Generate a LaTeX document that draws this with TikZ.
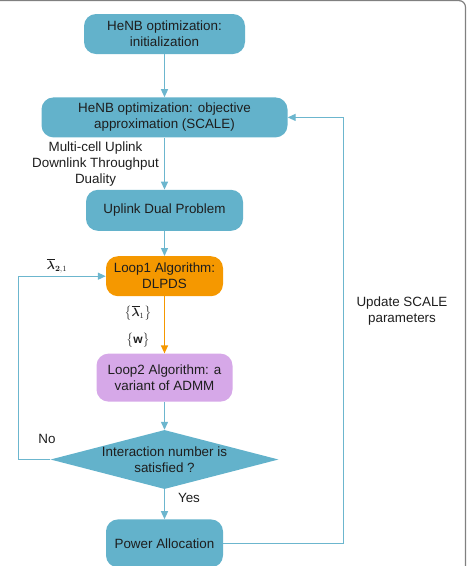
\documentclass[tikz,border=0pt]{standalone}
\usepackage{amsmath}
\usepackage{bm}
\usepackage{fontspec}
\setmainfont{Liberation Sans}
\usetikzlibrary{calc, shapes, arrows.meta, positioning}

\definecolor{boxblue}{RGB}{99,178,203}
\definecolor{lineblue}{RGB}{108,182,206}
\definecolor{looporange}{RGB}{245,152,0}
\definecolor{looppurple}{RGB}{214,168,232}
\definecolor{framegray}{RGB}{128,128,128}
\definecolor{textdark}{RGB}{30,30,30}

\tikzset{
  block/.style={rectangle, rounded corners=12pt, fill=boxblue, align=center, text=textdark, inner sep=2pt, minimum height=40pt},
  decision/.style={diamond, fill=boxblue, inner sep=0pt, minimum width=228pt, minimum height=59pt},
  flow/.style={draw=lineblue, line width=1.3pt, -{Triangle[length=8pt,width=7pt]}},
  note/.style={align=center, text=textdark, inner sep=0pt},
  mathnote/.style={text=textdark, inner sep=0pt, font=\fontsize{12}{14}\selectfont},
}

\begin{document}
\begin{tikzpicture}[x=1pt, y=1pt, font=\fontsize{13.4}{16}\selectfont]
        \useasboundingbox (0,0) rectangle (470,-566);
        \draw[framegray, line width=1.2pt] (0,-0.6) -- (459,-0.6) arc[start angle=90, end angle=0, radius=6.5] -- (465.5,-566);

        \node[block, minimum width=161pt] (init) at (164.5,-34) {HeNB optimization:\\initialization};
        \node[block, minimum width=246pt, below=43pt of init] (scale) {HeNB optimization: objective\\approximation (SCALE)};
        \node[block, minimum width=157pt, minimum height=41pt, below=52pt of scale] (dual) {Uplink Dual Problem};
        \node[block, fill=looporange, minimum width=117pt, below=25pt of dual] (loop1) {Loop1 Algorithm:\\DLPDS};
        \node[block, fill=looppurple, minimum width=136pt, minimum height=48pt, below=57pt of loop1] (loop2) {Loop2 Algorithm: a\\variant of ADMM};
        \node[decision, below=28pt of loop2] (check) {};
        \node[note] (checktext) at (check) {Interaction number is\\satisfied ?};
        \node[block, minimum width=117pt, minimum height=48pt, below=30pt of check] (power) {Power Allocation};

        \draw[flow] (init) -- (scale);
        \draw[flow] (scale) -- (dual);
        \draw[flow] (dual) -- (loop1);
        \draw[flow, draw=looporange] (loop1) -- (loop2);
        \draw[flow] (loop2) -- (check);
        \draw[flow] (check) -- (power);
        \draw[flow] (check.west) -- ++(-32,0) |- (loop1.west);
        \draw[flow] (power.east) -- ++(120.5,0) |- (scale.east);

        \node[note] (duality) at (95.5,-164) {Multi-cell Uplink\\Downlink Throughput\\Duality};
        \node[mathnote] (lamtwo) at (57,-266) {$\overline{\bm{\lambda}}_{\bm{2},1}$};
        \node[mathnote] (lamone) at (138,-313) {$\big\{\overline{\bm{\lambda}}_1\big\}$};
        \node[mathnote] (wvec) at (138,-340) {$\big\{\mathbf{w}\big\}$};
        \node[note] (no) at (47,-439) {No};
        \node[note] (yes) at (189,-498) {Yes};
        \node[note] (update) at (402,-311) {Update SCALE\\parameters};
\end{tikzpicture}
\end{document}
